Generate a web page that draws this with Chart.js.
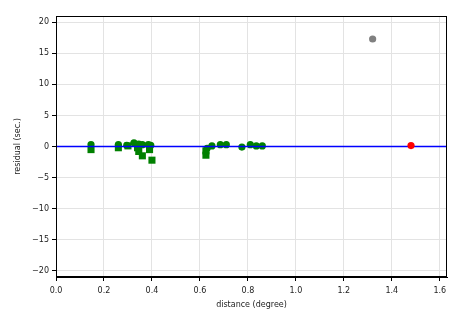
<!DOCTYPE html>
<html>
<head>
<meta charset="utf-8">
<script src="https://cdn.jsdelivr.net/npm/chart.js@4"></script>
<style>
  html, body { margin: 0; padding: 0; background: #fff; }
  #wrap { width: 465px; height: 315px; }
</style>
</head>
<body>
<div id="wrap"><canvas id="residualChart"></canvas></div>
<script>
// green circles (distance, residual)
const circleX = [0.146, 0.26, 0.295, 0.325, 0.345, 0.36, 0.385, 0.395, 0.63, 0.65, 0.685, 0.71, 0.775, 0.81, 0.835, 0.86];
const circleY = [0.3, 0.3, 0.2, 0.6, 0.4, 0.3, 0.3, 0.2, -0.3, 0.1, 0.3, 0.3, -0.1, 0.3, 0.1, 0.1];
// green squares
const squareX = [0.146, 0.26, 0.30, 0.34, 0.345, 0.36, 0.39, 0.40, 0.625, 0.625];
const squareY = [-0.5, -0.2, 0.1, -0.2, -0.8, -1.5, -0.5, -2.2, -0.7, -1.4];
// single points
const grayX = [1.32], grayY = [17.3];
const redX = [1.48], redY = [0.15];
// zero line
const zeroX = [0, 1.63], zeroY = [0, 0];

const xTicks = [0, 0.2, 0.4, 0.6, 0.8, 1.0, 1.2, 1.4, 1.6];
const yTicks = [-20, -15, -10, -5, 0, 5, 10, 15, 20];

const pts = (xs, ys) => xs.map((x, i) => ({ x: x, y: ys[i] }));

const frame = {
  id: 'frame',
  afterDraw(chart) {
    const { ctx, chartArea: a } = chart;
    ctx.save();
    ctx.strokeStyle = '#000';
    ctx.lineWidth = 1;
    ctx.strokeRect(a.left + 0.5, a.top + 0.5, a.right - a.left - 1, a.bottom - a.top - 1);
    ctx.restore();
  }
};

const font = { family: 'DejaVu Sans', size: 8 };

new Chart(document.getElementById('residualChart'), {
  type: 'scatter',
  data: {
    datasets: [
      {
        label: 'circles',
        data: pts(circleX, circleY),
        pointStyle: 'circle',
        pointRadius: 3.6,
        backgroundColor: '#008000',
        borderColor: '#008000',
        borderWidth: 0,
        order: 4
      },
      {
        label: 'squares',
        data: pts(squareX, squareY),
        pointStyle: 'rect',
        pointRadius: 5,
        backgroundColor: '#008000',
        borderColor: '#008000',
        borderWidth: 0,
        order: 3
      },
      {
        type: 'line',
        label: 'zero',
        data: pts(zeroX, zeroY),
        borderColor: '#0000ff',
        borderWidth: 1.5,
        pointRadius: 0,
        order: 2
      },
      {
        label: 'gray',
        data: pts(grayX, grayY),
        pointRadius: 3.6,
        backgroundColor: '#808080',
        borderWidth: 0,
        order: 1
      },
      {
        label: 'red',
        data: pts(redX, redY),
        pointRadius: 3.6,
        backgroundColor: '#ff0000',
        borderWidth: 0,
        order: 0
      }
    ]
  },
  options: {
    responsive: true,
    maintainAspectRatio: false,
    animation: false,
    layout: { padding: { top: 16, right: 18, left: 0, bottom: 0 } },
    plugins: {
      legend: { display: false },
      tooltip: { enabled: false }
    },
    scales: {
      x: {
        type: 'linear',
        min: 0,
        max: 1.63,
        afterBuildTicks: (s) => { s.ticks = xTicks.map(v => ({ value: v })); },
        afterFit: (s) => { s.height = 38; },
        grid: { color: '#e3e3e3', lineWidth: 1, tickColor: '#000', tickLength: 4 },
        border: { color: '#000', width: 1 },
        ticks: {
          color: '#222',
          font: font,
          padding: 5,
          maxRotation: 0,
          callback: (v) => v.toFixed(1)
        },
        title: { display: true, text: 'distance (degree)', color: '#222', font: font, padding: { top: 2, bottom: 5 } }
      },
      y: {
        type: 'linear',
        min: -21,
        max: 21,
        afterBuildTicks: (s) => { s.ticks = yTicks.map(v => ({ value: v })); },
        afterFit: (s) => { s.width = 56; },
        grid: { color: '#e3e3e3', lineWidth: 1, tickColor: '#000', tickLength: 4 },
        border: { color: '#000', width: 1 },
        ticks: {
          color: '#222',
          font: font,
          padding: 3,
          callback: (v) => (v < 0 ? '\u2212' + Math.abs(v) : String(v))
        },
        title: { display: true, text: 'residual (sec.)', color: '#222', font: font, padding: { top: 13, bottom: 4 } }
      }
    }
  },
  plugins: [frame]
});
</script>
</body>
</html>
